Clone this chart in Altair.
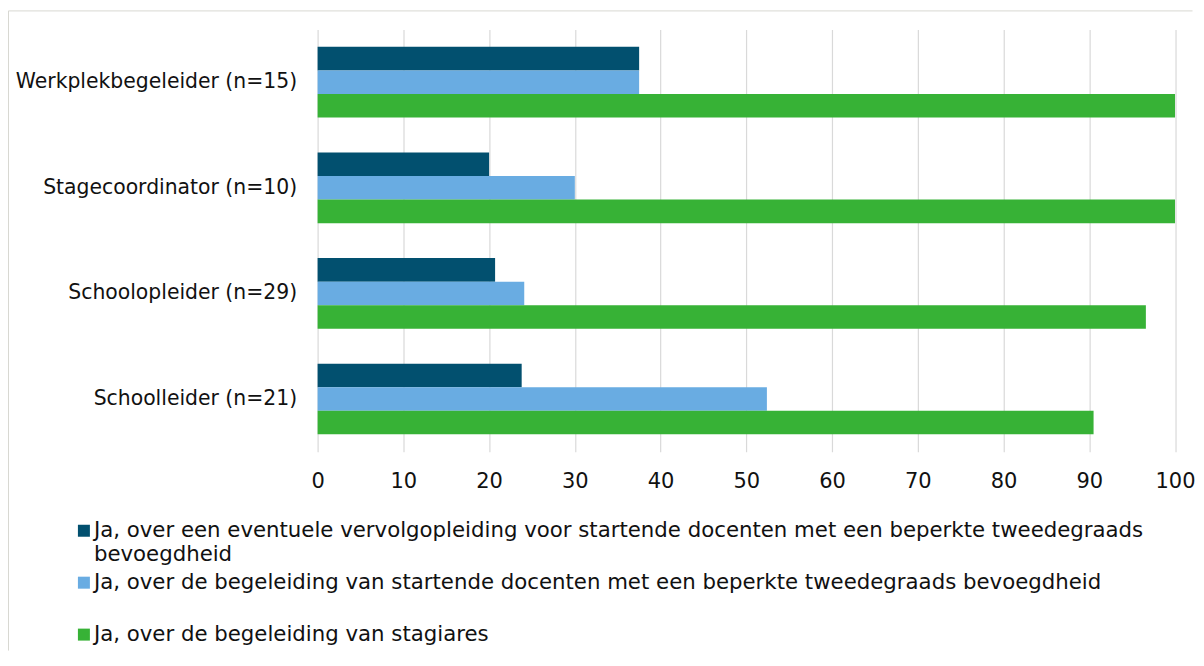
import altair as alt
import pandas as pd

# ---- data ----
categories = [
    "Werkplekbegeleider (n=15)",
    "Stagecoordinator (n=10)",
    "Schoolopleider (n=29)",
    "Schoolleider (n=21)",
]
series = [
    "Ja, over een eventuele vervolgopleiding voor startende docenten met een beperkte tweedegraads bevoegdheid",
    "Ja, over de begeleiding van startende docenten met een beperkte tweedegraads bevoegdheid",
    "Ja, over de begeleiding van stagiares",
]
legend_labels = [
    "Ja, over een eventuele vervolgopleiding voor startende docenten met een beperkte tweedegraads|bevoegdheid",
    "Ja, over de begeleiding van startende docenten met een beperkte tweedegraads bevoegdheid",
    "Ja, over de begeleiding van stagiares",
]
values_vervolg = [37.5, 20.0, 20.7, 23.8]
values_startend = [37.5, 30.0, 24.1, 52.4]
values_stagiares = [100.0, 100.0, 96.6, 90.5]
x_ticks = [0, 10, 20, 30, 40, 50, 60, 70, 80, 90, 100]
colors = ["#02506f", "#69ace2", "#37b236"]

FONT = "DejaVu Sans"
TXT = "#111111"

rows = []
for s, vals in zip(series, [values_vervolg, values_startend, values_stagiares]):
    for c, v in zip(categories, vals):
        rows.append({"category": c, "series": s, "value": v})
df = pd.DataFrame(rows)
leg_df = pd.DataFrame({"series": series, "label": legend_labels})

color_scale = alt.Scale(domain=series, range=colors)

bars = alt.Chart(df).mark_bar().encode(
    x=alt.X(
        "value:Q",
        scale=alt.Scale(domain=[0, 100], nice=False),
        axis=alt.Axis(
            values=x_ticks, title=None, grid=True, ticks=False, domain=False,
            labelPadding=19, labelFontSize=21, labelFont=FONT, labelColor=TXT,
            labelFlush=False, labelOverlap=False,
            gridColor="#d9d9d9", gridWidth=1.2,
        ),
    ),
    y=alt.Y(
        "category:N", sort=categories,
        scale=alt.Scale(paddingInner=0.331, paddingOuter=0.1656),
        axis=alt.Axis(
            title=None, ticks=False, domain=False, labelPadding=21,
            labelFontSize=20.4, labelFont=FONT, labelColor=TXT, labelLimit=0,
        ),
    ),
    yOffset=alt.YOffset("series:N", sort=series,
                        scale=alt.Scale(paddingInner=0, paddingOuter=0)),
    color=alt.Color("series:N", scale=color_scale, legend=None),
)

leg_y = alt.Y("series:N", sort=series,
              scale=alt.Scale(type="point", range=[502, 606], padding=0),
              axis=None)

squares = alt.Chart(leg_df).mark_square(size=144, opacity=1).encode(
    x=alt.value(-234),
    y=leg_y,
    color=alt.Color("series:N", scale=color_scale, legend=None),
)

texts = alt.Chart(leg_df).mark_text(
    align="left", baseline="top", dy=-11, fontSize=21.3, font=FONT,
    lineBreak="|", lineHeight=24, color=TXT,
).encode(
    x=alt.value(-224),
    y=leg_y,
    text="label:N",
)

one = alt.Data(values=[{"k": 1}])
left_border = alt.Chart(one).mark_rule(color="#d8d8d2", strokeWidth=1).encode(
    x=alt.value(-309.5), y=alt.value(-18.5), y2=alt.value(622)
)
top_border = alt.Chart(one).mark_rule(color="#d8d8d2", strokeWidth=1).encode(
    x=alt.value(-309.5), x2=alt.value(876), y=alt.value(-18.5)
)

chart = (
    alt.layer(bars, squares, texts, left_border, top_border)
    .resolve_scale(y="independent")
    .properties(width=858.5, height=423,
                padding={"left": 0, "top": 2, "right": 0, "bottom": 0})
    .configure(font=FONT, background="white")
    .configure_view(stroke=None)
)

chart.save("out.html", embed_options={"renderer": "svg", "actions": False})
